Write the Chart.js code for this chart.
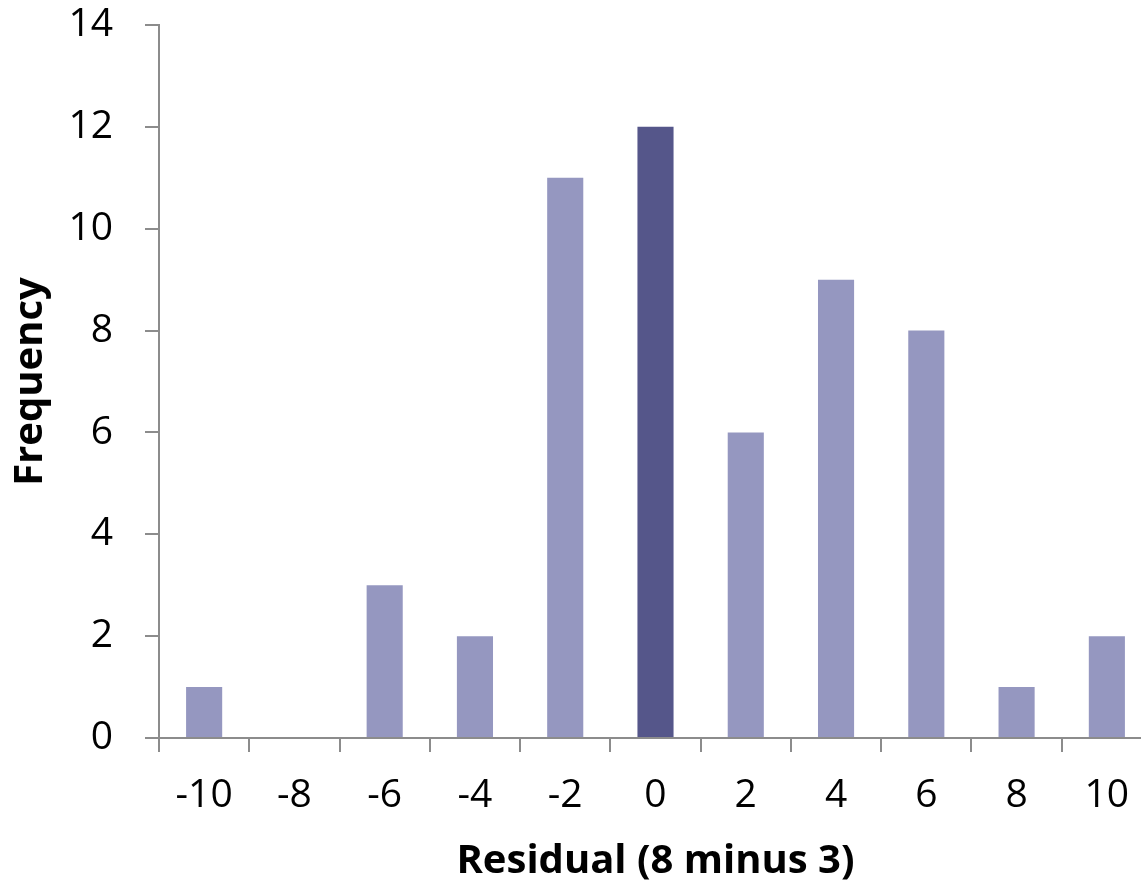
<!DOCTYPE html>
<html lang="en">
<head>
    <meta charset="UTF-8">
    <title>Residual histogram</title>
    <script src="https://cdn.jsdelivr.net/npm/chart.js@4.4.0/dist/chart.umd.min.js"></script>
    <style>
        html, body { margin: 0; padding: 0; background: #ffffff; overflow: hidden; }
        #wrap { width: 1152px; height: 888px; }
    </style>
</head>
<body>
<div id="wrap">
    <canvas id="myChart" width="1152" height="888"></canvas>
</div>
<script>
    // data
    var residuals = ['-10', '-8', '-6', '-4', '-2', '0', '2', '4', '6', '8', '10'];
    var frequency = [1, 0, 3, 2, 11, 12, 6, 9, 8, 1, 2];
    var yMax = 14;
    var yStep = 2;

    var lightBar = '#9597c0';
    var darkBar = '#55568a';
    var axisGray = '#8c8c8c';

    var barColors = residuals.map(function (r) {
        return r === '0' ? darkBar : lightBar;
    });

    var ctx = document.getElementById('myChart').getContext('2d');

    var myChart = new Chart(ctx, {
        type: 'bar',
        data: {
            labels: residuals,
            datasets: [{
                label: 'Frequency',
                data: frequency,
                backgroundColor: barColors,
                borderWidth: 0,
                barPercentage: 0.4,
                categoryPercentage: 1.0
            }]
        },
        options: {
            responsive: false,
            animation: false,
            devicePixelRatio: 1,
            layout: { padding: { top: 25, left: 0, right: 0, bottom: 0 } },
            plugins: {
                legend: { display: false },
                tooltip: { enabled: false }
            },
            scales: {
                x: {
                    offset: true,
                    grid: {
                        offset: true,
                        drawOnChartArea: false,
                        drawTicks: true,
                        tickLength: 14,
                        color: axisGray,
                        lineWidth: 2
                    },
                    border: { color: axisGray, width: 2 },
                    ticks: {
                        color: '#000000',
                        padding: 20,
                        maxRotation: 0,
                        font: { family: 'Open Sans', size: 39 }
                    },
                    title: {
                        display: true,
                        text: 'Residual (8 minus 3)',
                        color: '#000000',
                        padding: { top: 0, bottom: 2 },
                        font: { family: 'Open Sans', size: 40, weight: 'bold' }
                    },
                    afterFit: function (scale) {
                        scale.height = 150;
                        scale.paddingLeft = 0;
                        scale.paddingRight = 0;
                    }
                },
                y: {
                    min: 0,
                    max: yMax,
                    ticks: {
                        stepSize: yStep,
                        color: '#000000',
                        padding: 32,
                        font: { family: 'Open Sans', size: 39 }
                    },
                    grid: {
                        drawOnChartArea: false,
                        drawTicks: true,
                        tickLength: 14,
                        color: axisGray,
                        lineWidth: 2
                    },
                    border: { color: axisGray, width: 2 },
                    title: {
                        display: true,
                        text: 'Frequency',
                        color: '#000000',
                        padding: { top: 7, bottom: 0 },
                        font: { family: 'Open Sans', size: 40, weight: 'bold' }
                    },
                    afterFit: function (scale) {
                        scale.width = 159;
                        scale.paddingTop = 0;
                        scale.paddingBottom = 0;
                    }
                }
            }
        }
    });
</script>
</body>
</html>
